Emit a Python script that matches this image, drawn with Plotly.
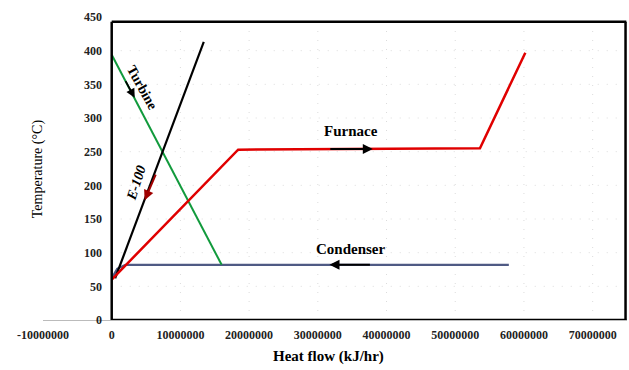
import plotly.graph_objects as go

# ---- data (heat flow kJ/hr, temperature °C) ----
turbine_x = [0, 16.0e6]
turbine_y = [394, 82]

e100_x = [0.5e6, 13.4e6]
e100_y = [62, 413]

furnace_x = [0, 18.4e6, 53.6e6, 60.2e6]
furnace_y = [60, 253, 255, 397]

condenser_x = [0, 0.8e6, 2.0e6, 57.8e6]
condenser_y = [62, 76, 82, 82]

x_ticks = [-10000000, 0, 10000000, 20000000, 30000000, 40000000, 50000000, 60000000, 70000000]
y_ticks = [0, 50, 100, 150, 200, 250, 300, 350, 400, 450]

serif = "Liberation Serif, Times New Roman, serif"

fig = go.Figure()

# gridlines (faint dotted)
shapes = []
for xv in x_ticks[2:]:
    shapes.append(dict(type="line", xref="x", yref="y", x0=xv, x1=xv, y0=0, y1=443,
                       line=dict(color="#dcdcdc", width=1, dash="1px,8px"), layer="below"))
for yv in y_ticks[1:-1]:
    shapes.append(dict(type="line", xref="x", yref="y", x0=0, x1=75e6, y0=yv, y1=yv,
                       line=dict(color="#dcdcdc", width=1, dash="1px,8px"), layer="below"))
# plot box
box = dict(color="black", width=2.5)
right_edge = 0.9975
shapes.append(dict(type="line", xref="x", yref="y", x0=0, x1=74.9e6, y0=443, y1=443, line=box))
shapes.append(dict(type="line", xref="x", yref="y", x0=0, x1=74.9e6, y0=0, y1=0, line=box))
shapes.append(dict(type="line", xref="x", yref="y", x0=0, x1=0, y0=0, y1=443, line=box))
shapes.append(dict(type="line", xref="paper", yref="y", x0=right_edge, x1=right_edge,
                   y0=0, y1=443, line=box))

fig.add_trace(go.Scatter(x=condenser_x, y=condenser_y, mode="lines",
                         line=dict(color="#4f5a84", width=2.2), hoverinfo="skip"))
fig.add_trace(go.Scatter(x=turbine_x, y=turbine_y, mode="lines",
                         line=dict(color="#119a3c", width=2), hoverinfo="skip"))
fig.add_trace(go.Scatter(x=e100_x, y=e100_y, mode="lines",
                         line=dict(color="black", width=2.2), hoverinfo="skip"))
fig.add_trace(go.Scatter(x=furnace_x, y=furnace_y, mode="lines",
                         line=dict(color="#e00000", width=2.5), hoverinfo="skip"))

annotations = [
    # arrows
    dict(x=3.35e6, y=330, ax=1.9e6, ay=357, xref="x", yref="y", axref="x", ayref="y",
         showarrow=True, arrowhead=2, arrowsize=1, arrowwidth=1.8, arrowcolor="black", text=""),
    dict(x=4.8e6, y=178, ax=6.5e6, ay=218, xref="x", yref="y", axref="x", ayref="y",
         showarrow=True, arrowhead=2, arrowsize=1, arrowwidth=2, arrowcolor="#a00000", text=""),
    dict(x=38.0e6, y=254, ax=31.6e6, ay=254, xref="x", yref="y", axref="x", ayref="y",
         showarrow=True, arrowhead=2, arrowsize=1, arrowwidth=2, arrowcolor="black", text=""),
    dict(x=31.7e6, y=82, ax=37.8e6, ay=82, xref="x", yref="y", axref="x", ayref="y",
         showarrow=True, arrowhead=2, arrowsize=1, arrowwidth=2, arrowcolor="black", text=""),
    # labels
    dict(x=4.4e6, y=345, xref="x", yref="y", text="<b>Turbine</b>", showarrow=False,
         textangle=61, font=dict(family=serif, size=14, color="black")),
    dict(x=3.6e6, y=204, xref="x", yref="y", text="<b><i>E-100</i></b>", showarrow=False,
         textangle=-72, font=dict(family=serif, size=14, color="black")),
    dict(x=34.9e6, y=281, xref="x", yref="y", text="<b>Furnace</b>", showarrow=False,
         font=dict(family=serif, size=15, color="black")),
    dict(x=34.8e6, y=105, xref="x", yref="y", text="<b>Condenser</b>", showarrow=False,
         font=dict(family=serif, size=15, color="black")),
    # axis titles
    dict(x=0.489, y=-0.122, xref="paper", yref="paper", xanchor="center", yanchor="middle",
         showarrow=False, text="<b>Heat flow (kJ/hr)</b>",
         font=dict(family=serif, size=15, color="black")),
    dict(x=-0.009, y=0.5, xref="paper", yref="paper", xanchor="center", yanchor="middle",
         showarrow=False, textangle=-90, text="Temperature (°C)",
         font=dict(family=serif, size=14, color="black")),
]

fig.update_layout(
    width=629, height=370,
    margin=dict(l=43, r=2, t=17, b=50),
    paper_bgcolor="white", plot_bgcolor="white",
    showlegend=False,
    shapes=shapes,
    annotations=annotations,
    xaxis=dict(range=[-10e6, 75e6], tickvals=x_ticks, ticktext=[str(v) for v in x_ticks],
               showgrid=False, zeroline=False, showline=True, linecolor="#bbbbbb", linewidth=1,
               ticks="", ticklabelstandoff=4,
               tickfont=dict(family=serif, size=12, color="#222", weight="bold")),
    yaxis=dict(range=[0, 450], tickvals=y_ticks, showgrid=False, zeroline=False,
               showline=False, ticks="", anchor="free", position=(113 - 43) / (627 - 43),
               ticklabelstandoff=11,
               tickfont=dict(family=serif, size=12, color="#222", weight="bold")),
)

fig.write_html("out.html", config={"displayModeBar": False},
               post_script="document.body.style.margin='0';")
